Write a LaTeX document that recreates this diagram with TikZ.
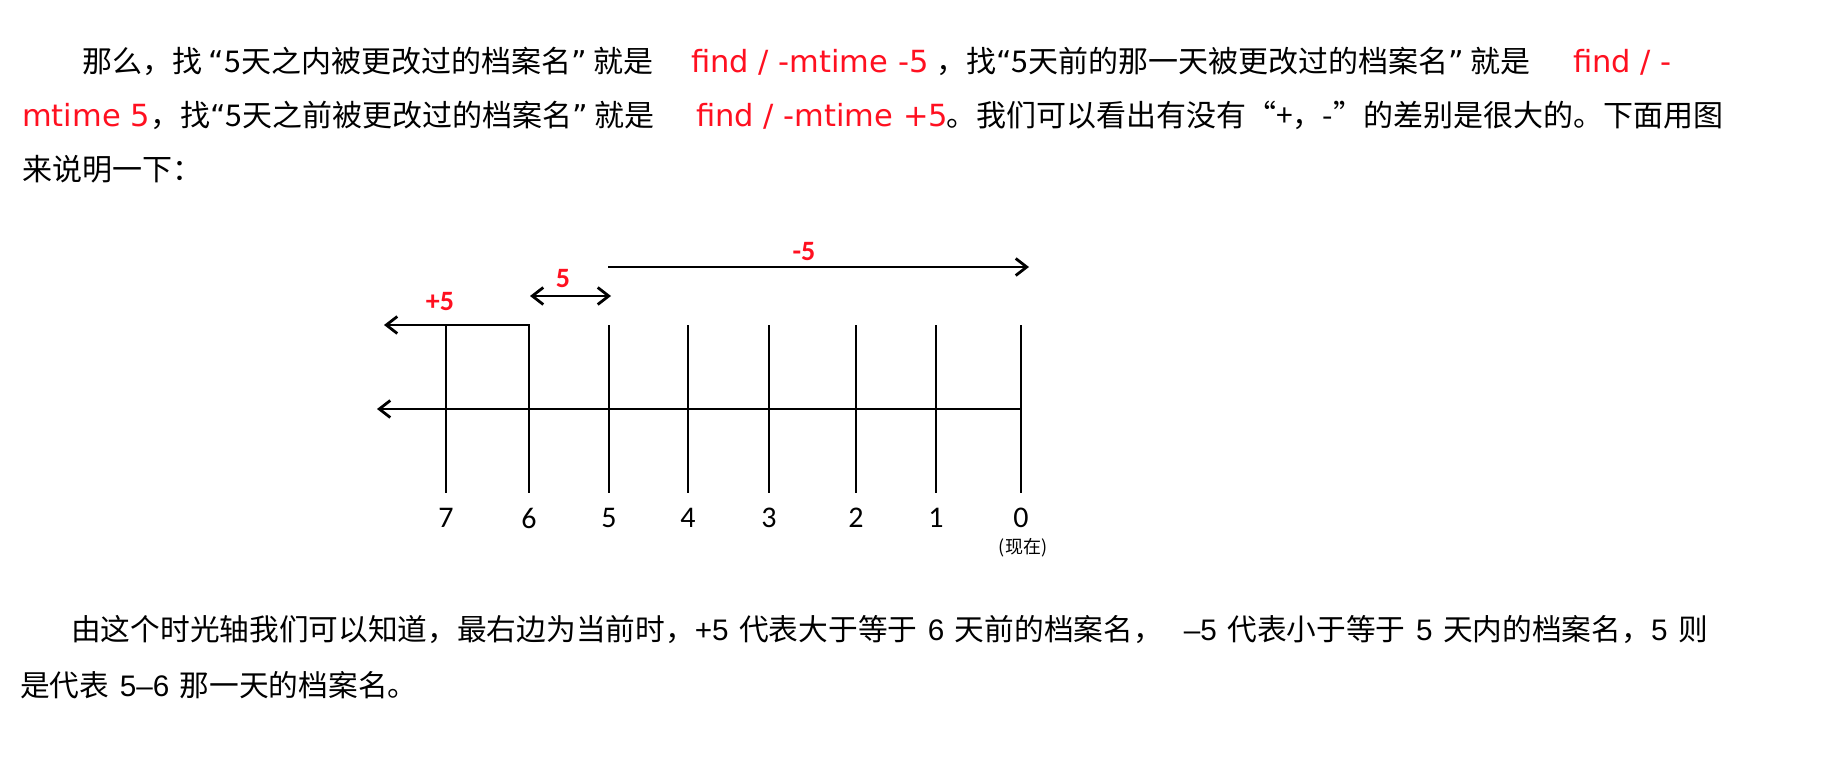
\documentclass[tikz,border=0pt]{standalone}
\usepackage{fontspec}
\setmainfont{Noto Sans CJK SC}
\newfontfamily\cmdfont{DejaVu Sans}
\newfontfamily\numfont{Carlito}
\newfontfamily\latinfont{Liberation Sans}
\usetikzlibrary{arrows.meta,positioning}
\definecolor{cmdred}{RGB}{255,16,32}
\newcommand{\lgap}{\hspace{10.5pt}}
\newcommand{\openq}{{\cmdfont “}}
\newcommand{\closeq}{{\cmdfont ”}}
\tikzset{
  txt/.style={anchor=base west,inner sep=0pt,font=\fontsize{30}{36}\selectfont},
  note/.style={anchor=base west,inner sep=0pt,font=\fontsize{29.7}{36}\selectfont},
  cmd/.style={anchor=base west,inner sep=0pt,text=cmdred,font=\cmdfont\fontsize{30.5}{36}\selectfont},
  tline/.style={line width=2.8pt,>={Straight Barb[length=11pt,width=17pt]}},
  daylbl/.style={inner sep=0pt,font=\numfont\fontsize{30}{36}\selectfont},
  spanlbl/.style={inner sep=0pt,text=cmdred,font=\numfont\bfseries\fontsize{28}{32}\selectfont},
}
\begin{document}
\begin{tikzpicture}[x=1pt,y=1pt,yscale=-1,xscale=1]
\fill[white] (0,0) rectangle (1848,768);
\useasboundingbox (0,0) rectangle (1848,768);

% Text Node
\node[txt] (p1a) at (82,73) {那么，找 \openq 5天之内被更改过的档案名\closeq{} 就是};
\node[cmd] (p1b) at (691,73) {find / -mtime -5};
\node[txt] (p1c) at (936,73) {，找\openq 5天前的那一天被更改过的档案名\closeq{} 就是};
\node[cmd] (p1d) at (1573,73) {find / -};
% Text Node
\node[cmd] (p2a) at (22,126) {mtime 5};
\node[txt] (p2b) at (150,126) {，找\openq 5天之前被更改过的档案名\closeq{} 就是};
\node[cmd] (p2c) at (696,126) {find / -mtime +5};
\node[txt] (p2d) at (946,126) {。我们可以看出有没有“+，-”的差别是很大的。下面用图};
% Text Node
\node[txt] (p3a) at (22,180) {来说明一下：};

%Straight Lines (day ticks)
\foreach \d/\x in {7/446,6/529,5/609,4/688,3/769,2/856,1/936,0/1021}{
  \coordinate (t\d) at (\x,325);
  \coordinate (b\d) at (\x,493);
  \draw[tline] (t\d) -- (b\d);
  \node[daylbl] (d\d) at (\x,518) {\d};
}
\node[inner sep=0pt,font=\fontsize{18}{20}\selectfont] (now) at (1023,548) {(现在)};

%Straight Lines (time axis)
\coordinate (axR) at (1021,409);
\coordinate (axL) at (377,409);
\draw[tline,->] (axR) -- (axL);

%Straight Lines (+5)
\coordinate (plusL) at (384,325);
\draw[tline,->,line cap=rect] (t6) -- (plusL);
%Straight Lines (5)
\coordinate (oneL) at (530,296);
\coordinate (oneR) at (611,296);
\draw[tline,<->] (oneL) -- (oneR);
%Straight Lines (-5)
\coordinate (minL) at (608,267);
\coordinate (minR) at (1029,267);
\draw[tline,->] (minL) -- (minR);

% Text Node
\node[spanlbl] (lplus) at (440,302) {+5};
\node[spanlbl] (lone) at (563,279) {5};
\node[spanlbl] (lmin) at (804,252) {-5};

% Text Node
\node[note] (q1) at (71,640) {由这个时光轴我们可以知道，最右边为当前时，{\latinfont +5}\lgap 代表大于等于\lgap{\latinfont 6}\lgap 天前的档案名，\lgap\lgap{\latinfont –5}\lgap 代表小于等于\lgap{\latinfont 5}\lgap 天内的档案名，{\latinfont 5}\lgap 则};
\node[note] (q2) at (20,696) {是代表\lgap{\latinfont 5–6}\lgap 那一天的档案名。};

\end{tikzpicture}
\end{document}
